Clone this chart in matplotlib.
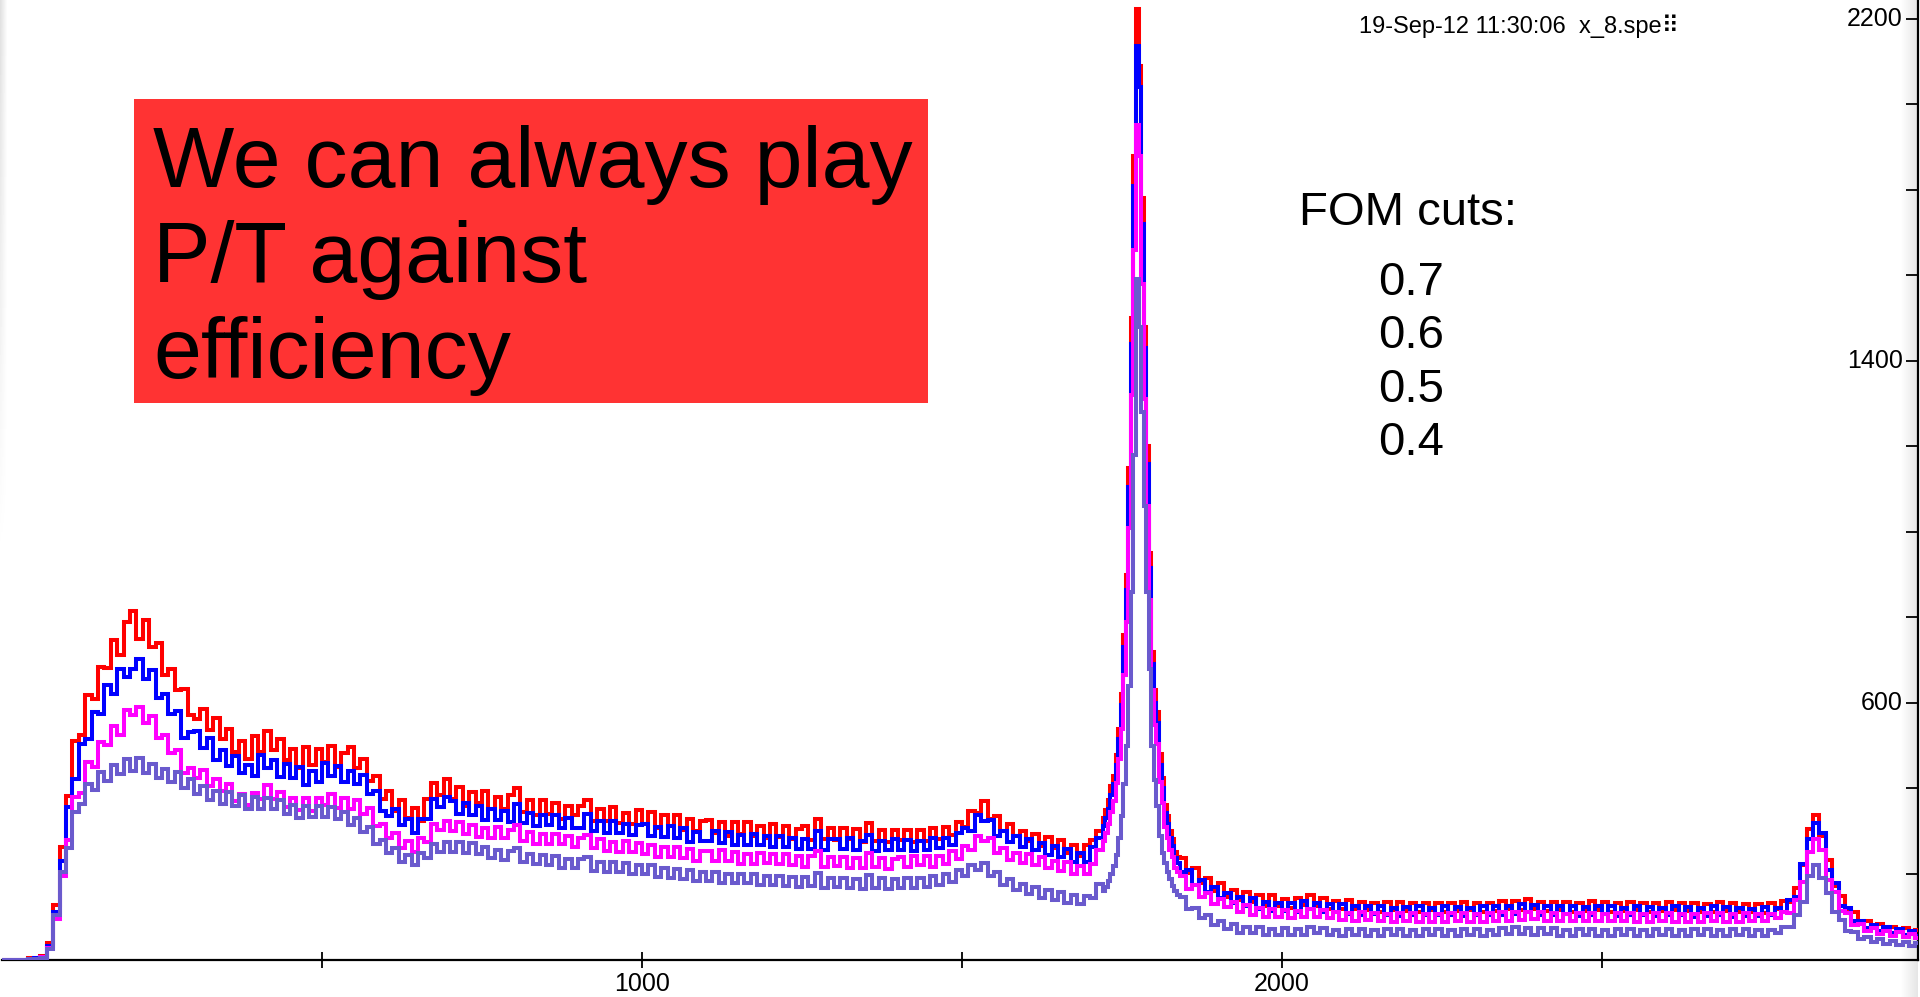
import numpy as np
import matplotlib
matplotlib.use("Agg")
import matplotlib.pyplot as plt
from matplotlib.patches import Rectangle

plt.rcParams['font.family'] = ['Liberation Sans', 'DejaVu Sans']

# channel bins: 10-channel bins, 4-channel bins across the big line
edges = np.concatenate([np.arange(0, 1720, 10),
                        np.arange(1720, 1840, 4),
                        np.arange(1840, 3001, 10)])

fom_cuts = ["0.7", "0.6", "0.5", "0.4"]
cut_colors = ["#ff0000", "#0000ff", "#ff00ff", "#6a5acd"]

counts_07 = [
    0, 0, 0, 0, 4, 2, 9, 38, 128, 262,
    382, 512, 525, 618, 610, 685, 682, 748, 713, 790,
    815, 750, 795, 730, 740, 665, 680, 630, 632, 572,
    563, 585, 537, 565, 515, 538, 485, 510, 468, 523,
    485, 534, 490, 516, 467, 493, 448, 498, 456, 493,
    462, 500, 451, 484, 496, 447, 470, 417, 429, 375,
    393, 347, 372, 330, 354, 325, 375, 412, 385, 422,
    375, 403, 360, 392, 365, 394, 352, 380, 352, 384,
    400, 344, 372, 338, 374, 340, 366, 329, 360, 337,
    360, 374, 324, 352, 323, 356, 320, 343, 316, 349,
    318, 344, 308, 338, 312, 338, 302, 328, 300, 323,
    326, 295, 322, 290, 322, 293, 322, 289, 312, 285,
    316, 287, 312, 281, 306, 313, 280, 329, 281, 307,
    279, 308, 282, 305, 275, 320, 278, 302, 274, 304,
    280, 304, 274, 303, 278, 308, 282, 311, 292, 322,
    310, 347, 342, 370, 328, 335, 301, 317, 288, 300,
    276, 294, 266, 287, 260, 280, 250, 268, 241, 268,
    280, 300,
    # 4-channel bins
    330, 350, 372, 405, 430, 478, 540, 620, 760, 900,
    1150, 1500, 1880, 2224, 2090, 1780, 1480, 1200, 950, 720,
    630, 580, 480, 425, 362, 335, 300, 282, 252, 240,
    # above the line
    238, 203, 214, 180, 190, 160, 178, 146, 163,
    139, 158, 135, 150, 126, 150, 124, 141, 120, 143,
    128, 150, 126, 143, 118, 136, 117, 138, 118, 135,
    115, 132, 112, 134, 115, 135, 113, 131, 111, 133,
    115, 133, 111, 131, 113, 135, 115, 133, 111, 131,
    114, 137, 118, 137, 116, 142, 118, 135, 114, 135,
    116, 134, 112, 132, 114, 136, 116, 134, 112, 132,
    113, 135, 115, 133, 111, 131, 113, 135, 115, 133,
    114, 132, 110, 130, 112, 134, 114, 132, 110, 130,
    111, 129, 109, 131, 118, 136, 134, 168, 222, 306,
    339, 289, 233, 172, 148, 114, 110, 84, 91, 74,
    83, 68, 77, 65, 74, 60, 69,
]

counts_06 = [
    0, 0, 0, 0, 2, 3, 7, 32, 112, 230,
    357, 421, 505, 516, 578, 575, 641, 621, 679, 661,
    680, 703, 655, 676, 612, 622, 573, 581, 517, 533,
    534, 495, 518, 466, 489, 452, 475, 436, 456, 428,
    478, 449, 467, 426, 457, 425, 450, 408, 442, 416,
    460, 428, 453, 416, 442, 410, 432, 386, 394, 347,
    336, 352, 314, 329, 296, 329, 328, 375, 356, 380,
    371, 340, 366, 338, 359, 326, 352, 327, 347, 321,
    363, 319, 343, 312, 338, 314, 338, 307, 330, 307,
    307, 341, 301, 325, 295, 323, 297, 318, 291, 315,
    316, 288, 310, 286, 312, 284, 307, 275, 299, 276,
    277, 300, 273, 299, 268, 291, 268, 293, 268, 289,
    264, 289, 264, 285, 258, 281, 258, 300, 256, 282,
    282, 259, 283, 256, 278, 292, 253, 277, 255, 281,
    257, 279, 253, 278, 257, 283, 260, 285, 268, 297,
    308, 300, 338, 323, 326, 290, 301, 274, 289, 264,
    281, 255, 273, 245, 266, 240, 258, 229, 250, 229,
    262, 284,
    312, 330, 352, 385, 410, 455, 515, 595, 730, 865,
    1105, 1440, 1810, 2137, 2040, 1720, 1430, 1160, 915, 690,
    600, 552, 455, 402, 343, 316, 284, 266, 238, 226,
    204, 210, 174, 185, 158, 170, 143, 155, 132,
    147, 126, 144, 119, 135, 113, 133, 114, 133, 112,
    137, 117, 133, 110, 130, 110, 129, 106, 124, 103,
    125, 106, 126, 104, 121, 101, 123, 105, 125, 103,
    121, 103, 125, 105, 123, 101, 121, 103, 125, 105,
    124, 103, 124, 107, 130, 110, 128, 105, 124, 105,
    126, 106, 124, 102, 122, 104, 126, 106, 124, 102,
    121, 103, 125, 105, 123, 101, 121, 103, 125, 105,
    122, 100, 120, 102, 124, 104, 122, 100, 120, 102,
    119, 101, 123, 103, 120, 112, 138, 146, 224, 282,
    319, 296, 210, 180, 126, 120, 89, 90, 73, 80,
    66, 75, 62, 71, 58, 67, 56,
]

counts_05 = [
    0, 0, 0, 0, 2, 1, 6, 28, 95, 195,
    279, 379, 389, 462, 451, 508, 502, 547, 526, 584,
    571, 590, 554, 569, 517, 525, 482, 490, 437, 449,
    425, 443, 406, 422, 393, 411, 370, 388, 362, 390,
    375, 409, 375, 391, 357, 378, 350, 378, 348, 378,
    361, 387, 355, 378, 353, 372, 341, 355, 312, 318,
    285, 297, 261, 277, 252, 283, 275, 316, 304, 324,
    300, 322, 294, 314, 286, 308, 284, 310, 283, 303,
    314, 278, 298, 271, 293, 270, 294, 269, 290, 264,
    285, 292, 260, 281, 253, 275, 252, 277, 252, 273,
    247, 268, 240, 263, 239, 264, 238, 258, 231, 254,
    253, 231, 256, 230, 251, 224, 247, 224, 250, 225,
    246, 223, 246, 220, 241, 216, 241, 253, 217, 239,
    219, 240, 214, 237, 215, 248, 216, 238, 212, 236,
    239, 217, 243, 220, 243, 217, 242, 223, 253, 235,
    266, 256, 290, 277, 284, 250, 260, 232, 248, 226,
    246, 221, 240, 214, 231, 208, 227, 200, 219, 200,
    224, 256,
    276, 295, 316, 346, 370, 412, 468, 540, 665, 790,
    1010, 1320, 1660, 1951, 1880, 1580, 1310, 1060, 840, 630,
    548, 505, 415, 366, 310, 285, 256, 240, 214, 204,
    195, 166, 174, 146, 156, 129, 142, 122, 135,
    111, 127, 104, 120, 100, 119, 99, 116, 96, 114,
    99, 118, 99, 116, 96, 112, 92, 109, 91, 110,
    92, 109, 89, 107, 88, 108, 90, 108, 88, 106,
    88, 106, 88, 108, 90, 108, 88, 106, 88, 108,
    91, 110, 91, 110, 92, 112, 94, 112, 91, 108,
    89, 107, 89, 109, 91, 109, 89, 107, 89, 109,
    90, 108, 88, 106, 88, 108, 90, 108, 88, 106,
    88, 106, 88, 108, 90, 108, 88, 106, 88, 108,
    91, 107, 89, 107, 96, 111, 109, 139, 181, 252,
    281, 257, 185, 159, 113, 108, 81, 83, 67, 73,
    60, 67, 55, 64, 52, 60, 51,
]

counts_04 = [
    0, 0, 0, 0, 1, 1, 4, 25, 105, 205,
    260, 344, 363, 411, 396, 438, 418, 456, 434, 468,
    440, 471, 436, 457, 424, 446, 416, 438, 401, 422,
    388, 406, 372, 394, 364, 391, 360, 384, 352, 379,
    352, 377, 352, 374, 340, 362, 330, 358, 333, 360,
    333, 356, 328, 346, 314, 332, 298, 309, 270, 280,
    248, 260, 228, 244, 220, 250, 238, 270, 252, 274,
    251, 274, 250, 272, 246, 264, 237, 256, 232, 254,
    261, 227, 247, 223, 245, 221, 241, 215, 236, 213,
    234, 240, 208, 228, 204, 227, 204, 225, 200, 221,
    200, 220, 194, 214, 190, 212, 189, 210, 184, 205,
    184, 205, 180, 201, 178, 201, 178, 199, 174, 195,
    174, 196, 171, 192, 170, 193, 171, 202, 168, 190,
    169, 191, 167, 188, 166, 198, 168, 190, 166, 188,
    168, 191, 168, 191, 170, 195, 175, 200, 182, 210,
    195, 222, 210, 225, 195, 205, 175, 188, 162, 177,
    153, 170, 145, 163, 140, 157, 132, 151, 129, 148,
    144, 176,
    160, 170, 184, 200, 218, 245, 285, 335, 410, 500,
    640, 860, 1180, 1592, 1480, 1280, 1060, 860, 680, 500,
    420, 360, 290, 250, 225, 205, 188, 172, 160, 150,
    146, 117, 120, 97, 103, 80, 90, 71, 82,
    63, 77, 62, 75, 58, 72, 57, 73, 58, 72,
    58, 76, 62, 74, 57, 70, 56, 72, 58, 72,
    56, 70, 56, 72, 58, 72, 56, 70, 56, 72,
    58, 72, 56, 70, 56, 72, 58, 72, 56, 70,
    57, 73, 60, 75, 59, 73, 58, 74, 59, 73,
    56, 70, 56, 72, 58, 72, 56, 70, 56, 72,
    58, 72, 56, 70, 56, 72, 58, 72, 56, 70,
    55, 71, 57, 71, 55, 69, 55, 71, 57, 71,
    55, 69, 55, 69, 62, 77, 77, 105, 135, 195,
    220, 190, 155, 110, 93, 67, 65, 48, 52, 41,
    47, 37, 44, 34, 41, 32, 38,
]

spectra = [counts_07, counts_06, counts_05, counts_04]
x_ticks = [500, 1000, 1500, 2000, 2500]
x_ticklabels = ["", "1000", "", "2000", ""]
y_ticks = list(range(200, 2201, 200))
y_labelled = [600, 1400, 2200]

W, H = 1920, 997
fig = plt.figure(figsize=(W / 100, H / 100), dpi=100)

# faint grey shading along the frame edges
shade_r = fig.add_axes([1900 / W, 0, 18 / W, 1], zorder=-1)
shade_r.imshow(np.linspace(1.0, 0.9, 18)[None, :], cmap='gray', vmin=0, vmax=1,
               aspect='auto', extent=(0, 1, 0, 1))
shade_r.axis('off')
fade_x = np.linspace(1.0, 0.0, 8)[None, :]
fade_y = np.linspace(0.0, 1.0, 60)[:, None]
shade_l = fig.add_axes([0, 1 - 560 / H, 8 / W, 560 / H], zorder=-1)
shade_l.imshow(1.0 - 0.12 * fade_x * fade_y, cmap='gray', vmin=0, vmax=1,
               aspect='auto', extent=(0, 1, 0, 1), origin='lower')
shade_l.axis('off')

ax = fig.add_axes([2 / W, (H - 959.5) / H, 1916 / W, 959.5 / H])
ax.patch.set_visible(False)

for counts, col in zip(spectra, cut_colors):
    ax.stairs(counts, edges, color=col, lw=2.9, zorder=3)

ax.set_xlim(0, 2994)
ax.set_ylim(0, 2244)
ax.spines['top'].set_visible(False)
ax.spines['left'].set_visible(False)
ax.spines['bottom'].set_linewidth(1.6)
ax.spines['right'].set_linewidth(1.6)

ax.set_xticks(x_ticks)
ax.set_xticklabels(x_ticklabels)
ax.tick_params(axis='x', direction='inout', length=11, width=1.3, pad=3.5, labelsize=18)

ax.yaxis.tick_right()
ax.set_yticks(y_ticks)
ax.tick_params(axis='y', direction='in', length=9, width=1.3, labelright=False)
for v in y_labelled:
    ax.text((1903 - 2) / 1916, v, str(v), transform=ax.get_yaxis_transform(),
            ha='right', va='center', fontsize=18)

# run stamp
fig.text(1359 / W, 1 - 26 / H, "19-Sep-12 11:30:06  x_8.spe\u283f", fontsize=17, va='center')

# red callout box
fig.add_artist(Rectangle((134 / W, 1 - 403 / H), (928 - 134) / W, (403 - 99) / H,
                         transform=fig.transFigure, facecolor='#ff3333', edgecolor='none', zorder=5))
for i, line in enumerate(["We can always play", "P/T against", "efficiency"]):
    fig.text(153 / W, 1 - (187 + i * 95.5) / H, line, fontsize=62, va='baseline', zorder=6)

fig.text(1299 / W, 1 - 225 / H, "FOM cuts:", fontsize=34, va='baseline')
for i, cut in enumerate(fom_cuts):
    fig.text(1378 / W, 1 - (295 + i * 53.3) / H, cut, fontsize=34, va='baseline')

fig.savefig("out.png", dpi=100)
